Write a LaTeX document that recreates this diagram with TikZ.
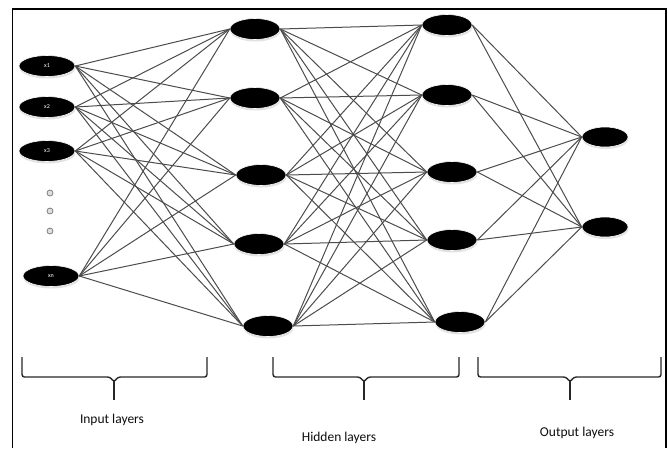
\documentclass[tikz,border=0pt]{standalone}
\usepackage{fontspec}
\setmainfont{Carlito}
\usetikzlibrary{shapes,calc,positioning,shadows}

\begin{document}
\begin{tikzpicture}[x=1pt,y=-1pt]
			\tikzstyle{every node}=[font=\fontsize{13.5}{15}\selectfont]
			\tikzstyle{neuron}=[ellipse, fill=black, draw=white, line width=0.6pt, inner sep=0pt,
				minimum width=50pt, minimum height=21pt,
				drop shadow={fill=gray!45, shadow xshift=0.5pt, shadow yshift=-2pt}]
			\tikzstyle{inneuron}=[neuron, minimum width=56pt, text=white, font=\fontsize{6}{7}\selectfont]
			\tikzstyle{outneuron}=[neuron, minimum width=46pt, minimum height=20pt]
			\tikzstyle{link}=[line width=1pt, gray!60!black]
			\tikzstyle{bracket}=[line width=1.4pt, gray!30!black, rounded corners=2.5pt]
			\useasboundingbox (0,0) rectangle (668,448);
			% frame
			\draw [line width=1.8pt] (12.5,448) -- (12.5,9) -- (666,9) -- (666,448);
			% input layer
			\node [inneuron] (i1) at (47,66) {x1};
			\node [inneuron] (i2) at (47,107) {x2};
			\node [inneuron] (i3) at (47,151) {x3};
			\node [inneuron] (i4) at (51,276) {xn};
			\foreach \y in {193,211,231}
				\draw [gray, fill=gray!25, line width=0.8pt] (50,\y) circle (3pt);
			% hidden layers
			\node [neuron] (a1) at (255,29) {};
			\node [neuron] (a2) at (255,98) {};
			\node [neuron] (a3) at (261,175) {};
			\node [neuron] (a4) at (259,244) {};
			\node [neuron] (a5) at (268,326) {};
			\node [neuron] (b1) at (447,25) {};
			\node [neuron] (b2) at (447,95) {};
			\node [neuron] (b3) at (452,172) {};
			\node [neuron] (b4) at (452,240) {};
			\node [neuron] (b5) at (460,322) {};
			% output layer
			\node [outneuron] (o1) at (605,137) {};
			\node [outneuron] (o2) at (605,227) {};
			% connections
			\foreach \i in {1,...,4}
				\foreach \j in {1,...,5}
					\draw [link] (i\i.east) -- (a\j.west);
			\foreach \i in {1,...,5}
				\foreach \j in {1,...,5}
					\draw [link] (a\i.east) -- (b\j.west);
			\foreach \i in {1,...,5}
				\foreach \j in {1,2}
					\draw [link] (b\i.east) -- (o\j.west);
			% brackets
			\draw [bracket] (22,357) -- (22,377) -- (110,377) -- (114,382) -- (118,377) -- (207,377) -- (207,357);
			\draw [line width=1.4pt, gray!30!black] (114,381) -- (114,400);
			\draw [bracket] (273,357) -- (273,377) -- (360,377) -- (364,382) -- (368,377) -- (459,377) -- (459,357);
			\draw [line width=1.4pt, gray!30!black] (364,381) -- (364,400);
			\draw [bracket] (478,357) -- (478,377) -- (566,377) -- (570,382) -- (574,377) -- (661,377) -- (661,357);
			\draw [line width=1.4pt, gray!30!black] (570,381) -- (570,400);
			% labels
			\node [gray!10!black] (lin) at (112,420) {Input layers};
			\node [gray!10!black] (lhid) at (339,438) {Hidden layers};
			\node [gray!10!black] (lout) at (577,433) {Output layers};
	\end{tikzpicture}
\end{document}
